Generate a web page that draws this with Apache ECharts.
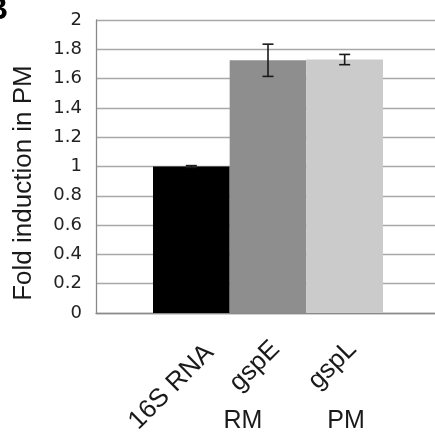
<!DOCTYPE html>
<html>
<head>
<meta charset="utf-8">
<script src="https://cdn.jsdelivr.net/npm/echarts@6/dist/echarts.min.js"></script>
<style>
  html, body { margin: 0; padding: 0; background: #ffffff; }
  #chart { width: 435px; height: 432px; }
</style>
</head>
<body>
<div id="chart"></div>
<script>
// ---- data ----
const categories = ['16S RNA', 'gspE', 'gspL'];
const foldValues = [1.00, 1.725, 1.73];
const errorValues = [0.006, 0.11, 0.035];
const groupLabels = ['RM', 'PM'];
const yAxisTitle = 'Fold induction in PM';
const panelLetter = 'B';
const yMin = 0, yMax = 2, yStep = 0.2;

// ---- styles ----
const barColors = ['#000000', '#8e8e8e', '#cbcbcb'];

const chart = echarts.init(document.getElementById('chart'), null, { renderer: 'canvas' });

const gridTop = 20, gridBottom = 119;

const option = {
  animation: false,
  backgroundColor: '#ffffff',
  color: barColors,
  grid: [
    { left: 96, right: 0, top: gridTop, bottom: gridBottom, containLabel: false, outerBoundsMode: 'none' },
    { left: 153, right: 52, top: gridTop, bottom: gridBottom, containLabel: false, outerBoundsMode: 'none' }
  ],
  xAxis: [
    {
      type: 'category', gridIndex: 0, data: [''],
      axisLine: { show: true, lineStyle: { color: '#8a8a8a', width: 1.3 } },
      axisTick: { show: false }, axisLabel: { show: false }, splitLine: { show: false }
    },
    {
      type: 'category', gridIndex: 1,
      data: categories.map((c, i) => i === 0
        ? { value: c, textStyle: { verticalAlign: 'top', lineHeight: 20, padding: [0, -16, 0, 0] } }
        : c),
      axisLine: { show: false }, axisTick: { show: false },
      axisLabel: {
        rotate: 45, margin: 40, interval: 0,
        fontFamily: 'Liberation Sans', fontSize: 26, color: '#1a1a1a',
        padding: [0, -11, 0, 0]
      }
    }
  ],
  yAxis: [
    {
      type: 'value', gridIndex: 0, min: yMin, max: yMax, interval: yStep,
      axisLine: { show: true, lineStyle: { color: '#8a8a8a', width: 1.3 } },
      axisTick: { show: false },
      splitLine: { show: true, lineStyle: { color: '#a8a8a8', width: 1.3 } },
      axisLabel: { margin: 14, fontFamily: 'DejaVu Sans', fontSize: 18, color: '#222222' }
    },
    {
      type: 'value', gridIndex: 1, min: yMin, max: yMax, interval: yStep,
      show: false, splitLine: { show: false }
    }
  ],
  series: [
    {
      type: 'bar', xAxisIndex: 1, yAxisIndex: 1,
      colorBy: 'data',
      barCategoryGap: 0,
      data: foldValues
    },
    {
      type: 'custom', xAxisIndex: 1, yAxisIndex: 1, z: 10,
      data: foldValues.map((v, i) => [i, v - errorValues[i], v + errorValues[i]]),
      renderItem: function (params, api) {
        const lo = api.coord([api.value(0), api.value(1)]);
        const hi = api.coord([api.value(0), api.value(2)]);
        const hw = 5.5;
        const style = { stroke: '#1a1a1a', lineWidth: 1.6 };
        return {
          type: 'group',
          children: [
            { type: 'line', shape: { x1: hi[0], y1: hi[1], x2: lo[0], y2: lo[1] }, style },
            { type: 'line', shape: { x1: hi[0] - hw, y1: hi[1], x2: hi[0] + hw, y2: hi[1] }, style },
            { type: 'line', shape: { x1: lo[0] - hw, y1: lo[1], x2: lo[0] + hw, y2: lo[1] }, style }
          ]
        };
      }
    }
  ],
  graphic: [
    {
      type: 'text', x: 24, y: 183, rotation: Math.PI / 2,
      style: {
        text: yAxisTitle, fontFamily: 'Liberation Sans', fontSize: 26, fill: '#1a1a1a',
        align: 'center', verticalAlign: 'middle'
      }
    },
    {
      type: 'text', x: 243, y: 421,
      style: { text: groupLabels[0], fontFamily: 'Liberation Sans', fontSize: 25, fill: '#1a1a1a', align: 'center', verticalAlign: 'middle' }
    },
    {
      type: 'text', x: 346, y: 421,
      style: { text: groupLabels[1], fontFamily: 'Liberation Sans', fontSize: 25, fill: '#1a1a1a', align: 'center', verticalAlign: 'middle' }
    },
    {
      type: 'text', x: 8, y: 26,
      style: { text: panelLetter, fontFamily: 'Liberation Sans', fontWeight: 'bold', fontSize: 32, fill: '#000000', align: 'right', verticalAlign: 'bottom' }
    }
  ]
};

chart.setOption(option);
</script>
</body>
</html>
